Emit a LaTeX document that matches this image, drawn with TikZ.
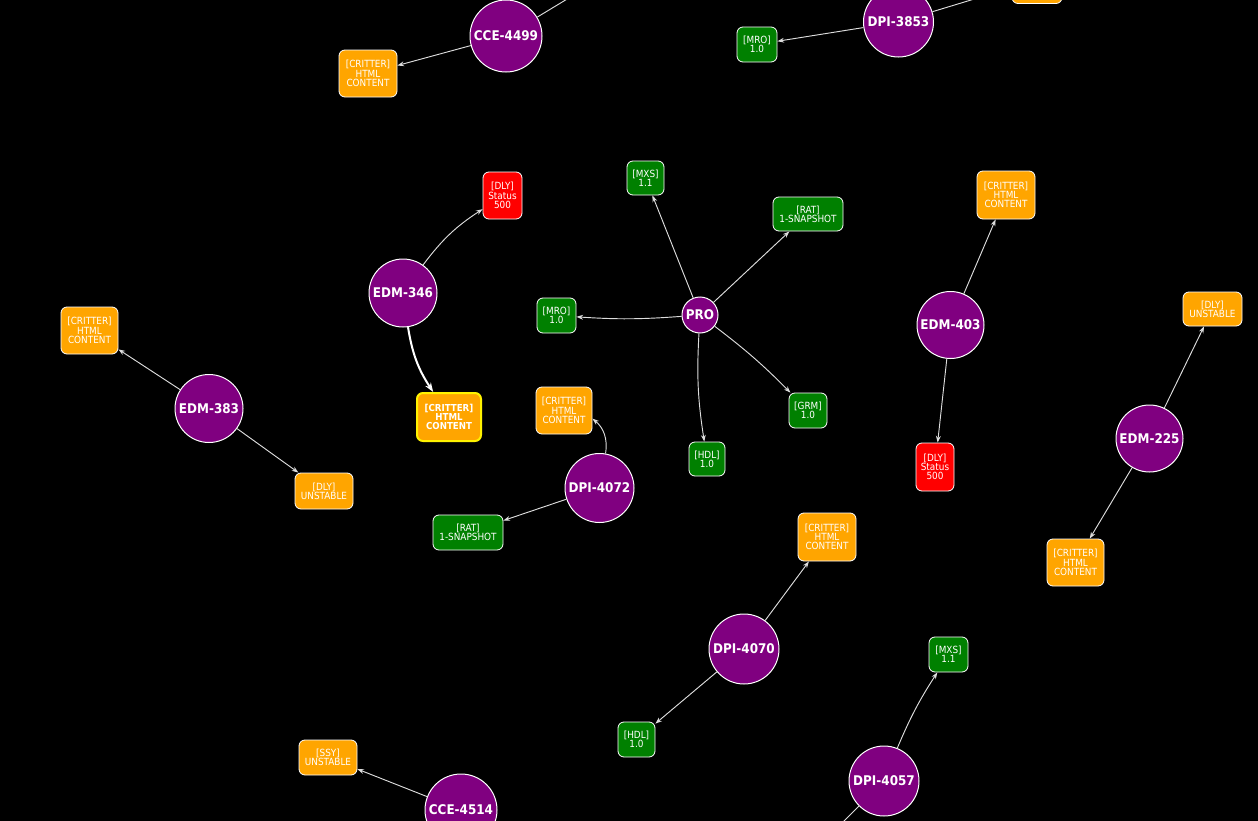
\documentclass[tikz,border=0pt]{standalone}
\usepackage{fontspec}
\setmainfont{DejaVu Sans Condensed}
\usetikzlibrary{arrows.meta}
\definecolor{hubpurple}{HTML}{800080}
\definecolor{taggreen}{HTML}{008000}
\definecolor{tagorange}{HTML}{FFA500}
\definecolor{tagred}{HTML}{FF0000}
\definecolor{wire}{HTML}{DDDDDD}
\tikzset{
  hub/.style={circle, fill=hubpurple, draw=white, line width=0.75pt, inner sep=0pt,
    minimum size=1.5*#1pt, text=white, font=\bfseries\fontsize{10}{12}\selectfont},
  tag/.style 2 args={rounded corners=4.5pt, draw=white, line width=0.6pt, inner sep=0pt,
    minimum width=0.75*#1pt, minimum height=0.75*#2pt, text=white, align=center,
    font=\fontsize{7.4}{6.9}\selectfont},
  green/.style={fill=taggreen},
  orange/.style={fill=tagorange},
  red/.style={fill=tagred},
  focus/.style={draw=yellow, line width=1.5pt, font=\bfseries\fontsize{7.2}{6.9}\selectfont},
  conn/.style={draw=wire, line width=0.7pt, -{Stealth[length=5pt,width=3.6pt]}},
  plain/.style={draw=wire, line width=0.7pt},
  heavy/.style={draw=white, line width=1.5pt, -{Stealth[length=7pt,width=5pt]}},
}
\begin{document}
\begin{tikzpicture}[x=0.75pt,y=-0.75pt]
\fill[black] (0,0) rectangle (1258,821);
\clip (0,0) rectangle (1258,821);

% hubs
\node[hub=36] (cce4499) at (506,36) {CCE-4499};
\node[hub=35] (dpi3853) at (898.5,22) {DPI-3853};
\node[hub=34] (edm346) at (403,293) {EDM-346};
\node[hub=18] (pro) at (700,315) {PRO};
\node[hub=34] (edm383) at (209,408.5) {EDM-383};
\node[hub=34.5] (dpi4072) at (599.5,488) {DPI-4072};
\node[hub=33.5] (edm403) at (950.5,325) {EDM-403};
\node[hub=33.5] (edm225) at (1149.5,438.5) {EDM-225};
\node[hub=35] (dpi4070) at (744,649) {DPI-4070};
\node[hub=35] (dpi4057) at (884,781) {DPI-4057};
\node[hub=36] (cce4514) at (461,810) {CCE-4514};

% tags
\node[tag={58}{47}, orange] (t1) at (368,73.5) {[CRITTER]\\HTML\\CONTENT};
\node[tag={40}{35}, green] (t2) at (757,44.5) {[MRO]\\1.0};
\node[tag={50}{47}, orange] (t3) at (1037,-20) {};
\node[tag={39}{47}, red] (t4) at (502.5,195.5) {[DLY]\\Status\\500};
\node[tag={64}{48}, orange, focus] (t5) at (449,417) {[CRITTER]\\HTML\\CONTENT};
\node[tag={37}{34}, green] (t6) at (645.5,178) {[MXS]\\1.1};
\node[tag={70}{34}, green] (t7) at (808,214) {[RAT]\\1-SNAPSHOT};
\node[tag={39}{35}, green] (t8) at (556.5,315.5) {[MRO]\\1.0};
\node[tag={38}{35}, green] (t9) at (808,410.5) {[GRM]\\1.0};
\node[tag={36}{34}, green] (t10) at (707,459) {[HDL]\\1.0};
\node[tag={56}{47}, orange] (t11) at (564,410.5) {[CRITTER]\\HTML\\CONTENT};
\node[tag={70}{35}, green] (t12) at (468,532.5) {[RAT]\\1-SNAPSHOT};
\node[tag={57}{47}, orange] (t13) at (89.5,330.5) {[CRITTER]\\HTML\\CONTENT};
\node[tag={58}{36}, orange] (t14) at (324,491) {[DLY]\\UNSTABLE};
\node[tag={58}{48}, orange] (t15) at (1006,195) {[CRITTER]\\HTML\\CONTENT};
\node[tag={38}{48}, red] (t16) at (935,467) {[DLY]\\Status\\500};
\node[tag={59}{34}, orange] (t17) at (1212.5,309) {[DLY]\\UNSTABLE};
\node[tag={57}{47}, orange] (t18) at (1075.5,562.5) {[CRITTER]\\HTML\\CONTENT};
\node[tag={58}{48}, orange] (t19) at (827,537) {[CRITTER]\\HTML\\CONTENT};
\node[tag={37}{35}, green] (t20) at (636.5,739.5) {[HDL]\\1.0};
\node[tag={39}{35}, green] (t21) at (948.5,654.5) {[MXS]\\1.1};
\node[tag={58}{35}, orange] (t22) at (328,757.5) {[SSY]\\UNSTABLE};

% free ends leaving the frame
\coordinate (outA) at (640,-45);
\coordinate (outB) at (820,845);

% connectors
\draw[plain] (cce4499) -- (outA);
\draw[conn] (cce4499) -- (t1);
\draw[conn] (dpi3853) -- (t2);
\draw[conn] (dpi3853) -- (t3);
\draw[conn] (edm346) to[bend left=10] (t4);
\draw[heavy] (edm346) to[bend right=12] (t5);
\draw[conn] (pro) -- (t6);
\draw[conn] (pro) -- (t7);
\draw[conn] (pro) to[bend left=4] (t8);
\draw[conn] (pro) to[bend left=4] (t9);
\draw[conn] (pro) to[bend right=6] (t10);
\draw[conn] (dpi4072.80) to[bend right=30] (t11);
\draw[conn] (dpi4072) -- (t12);
\draw[conn] (edm383) -- (t13);
\draw[conn] (edm383) -- (t14);
\draw[conn] (edm403) -- (t15);
\draw[conn] (edm403) -- (t16);
\draw[conn] (edm225) -- (t17);
\draw[conn] (edm225) -- (t18);
\draw[conn] (dpi4070) -- (t19);
\draw[conn] (dpi4070) -- (t20);
\draw[conn] (dpi4057) to[bend left=5] (t21);
\draw[plain] (dpi4057) -- (outB);
\draw[conn] (cce4514) -- (t22);
\end{tikzpicture}
\end{document}
